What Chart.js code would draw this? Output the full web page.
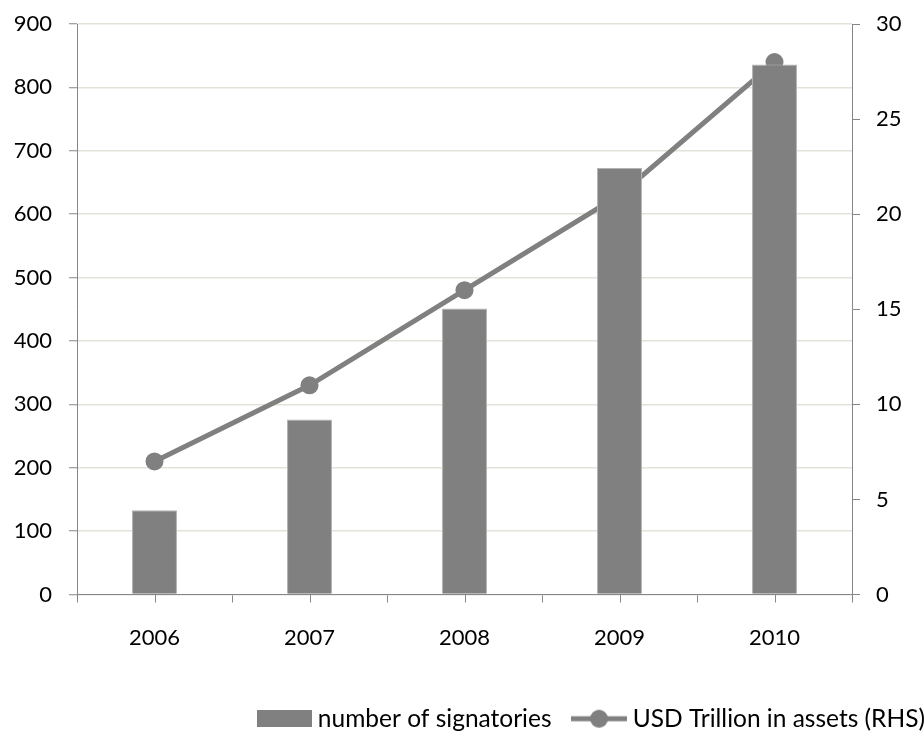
<!DOCTYPE html>
<html>
<head>
<meta charset="utf-8">
<script src="https://cdn.jsdelivr.net/npm/chart.js@4.4.1/dist/chart.umd.min.js"></script>
<style>
  html, body { margin: 0; padding: 0; background: #ffffff; }
  canvas { display: block; }
</style>
</head>
<body>
<canvas id="chart" width="924" height="741"></canvas>
<script>
// Categories and series
const years = ['2006', '2007', '2008', '2009', '2010'];
const signatories = [133, 276, 451, 673, 836];
const assetsTrillion = [7, 11, 16, 21, 28];

// Axis tick labels
const leftTicks = [0, 100, 200, 300, 400, 500, 600, 700, 800, 900];
const rightTicks = [0, 5, 10, 15, 20, 25, 30];

const GREY = '#808080';
const AXIS = '#868686';
const GRID = '#e3e3d9';
const FAMILY = 'Lato, "Open Sans", sans-serif';
const FONT = { family: FAMILY, size: 22 };
const LEGEND_FONT = { family: FAMILY, size: 24.5 };

// Legend symbols: a filled box and a line with a round marker
function makeBoxSymbol() {
  const c = document.createElement('canvas');
  c.width = 55; c.height = 17;
  const g = c.getContext('2d');
  g.fillStyle = GREY;
  g.fillRect(0, 0, 55, 17);
  return c;
}
function makeLineSymbol() {
  const c = document.createElement('canvas');
  c.width = 56; c.height = 20;
  const g = c.getContext('2d');
  g.strokeStyle = GREY;
  g.lineWidth = 5;
  g.beginPath(); g.moveTo(0, 10); g.lineTo(56, 10); g.stroke();
  g.fillStyle = GREY;
  g.beginPath(); g.arc(28, 10, 9, 0, Math.PI * 2); g.fill();
  return c;
}
const boxSymbol = makeBoxSymbol();
const lineSymbol = makeLineSymbol();

// Category ticks at the centre of each year, in addition to the boundary ticks
const centreTicks = {
  id: 'centreTicks',
  afterDraw(chart) {
    const s = chart.scales.x;
    const ctx = chart.ctx;
    ctx.save();
    ctx.strokeStyle = AXIS;
    ctx.lineWidth = 1;
    years.forEach((_, i) => {
      const x = Math.round(s.getPixelForValue(i)) + 0.5;
      ctx.beginPath();
      ctx.moveTo(x, s.top);
      ctx.lineTo(x, s.top + 8);
      ctx.stroke();
    });
    ctx.restore();
  }
};

// Vertical axes: fixed width, no extra room reserved above the top label
function fitVertical(width) {
  return s => { s.width = width; s.paddingTop = 0; s.paddingBottom = 0; };
}

new Chart(document.getElementById('chart'), {
  data: {
    labels: years,
    datasets: [
      {
        type: 'bar',
        label: 'number of signatories',
        data: signatories,
        yAxisID: 'y',
        backgroundColor: GREY,
        borderColor: '#b3b3b3',
        borderWidth: 1,
        barPercentage: 0.29,
        categoryPercentage: 1,
        order: 0
      },
      {
        type: 'line',
        label: 'USD Trillion in assets (RHS)',
        data: assetsTrillion,
        yAxisID: 'y1',
        borderColor: GREY,
        borderWidth: 5,
        backgroundColor: GREY,
        pointRadius: 9,
        pointBorderWidth: 0,
        pointBackgroundColor: GREY,
        tension: 0,
        order: 1
      }
    ]
  },
  options: {
    responsive: false,
    animation: false,
    devicePixelRatio: 1,
    layout: { padding: { top: 24, right: -27, bottom: 0, left: 0 } },
    plugins: {
      tooltip: { enabled: false },
      legend: {
        position: 'bottom',
        align: 'end',
        labels: {
          usePointStyle: true,
          pointStyleWidth: 43,
          padding: 26,
          color: '#000000',
          font: LEGEND_FONT,
          generateLabels(chart) {
            const items = Chart.defaults.plugins.legend.labels.generateLabels(chart);
            items.forEach(it => {
              it.pointStyle = it.datasetIndex === 0 ? boxSymbol : lineSymbol;
            });
            return items;
          }
        }
      }
    },
    scales: {
      x: {
        offset: true,
        grid: { offset: true, drawOnChartArea: false, tickLength: 8, color: AXIS, tickColor: AXIS },
        border: { color: AXIS, width: 1 },
        ticks: { color: '#000000', font: FONT, padding: 22 },
        afterFit(s) { s.height = 86; }
      },
      y: {
        position: 'left',
        min: 0,
        max: 900,
        afterBuildTicks(s) { s.ticks = leftTicks.map(v => ({ value: v })); },
        ticks: { color: '#000000', font: FONT, padding: 17 },
        grid: { color: GRID, lineWidth: 1.5, tickColor: AXIS, tickLength: 8, tickWidth: 1 },
        border: { color: AXIS, width: 1 },
        afterFit: fitVertical(77)
      },
      y1: {
        position: 'right',
        min: 0,
        max: 30,
        afterBuildTicks(s) { s.ticks = rightTicks.map(v => ({ value: v })); },
        ticks: { color: '#000000', font: FONT, padding: 16 },
        grid: { drawOnChartArea: false, tickColor: AXIS, tickLength: 8, color: AXIS },
        border: { color: AXIS, width: 1 },
        afterFit: fitVertical(99)
      }
    }
  },
  plugins: [centreTicks]
});
</script>
</body>
</html>
